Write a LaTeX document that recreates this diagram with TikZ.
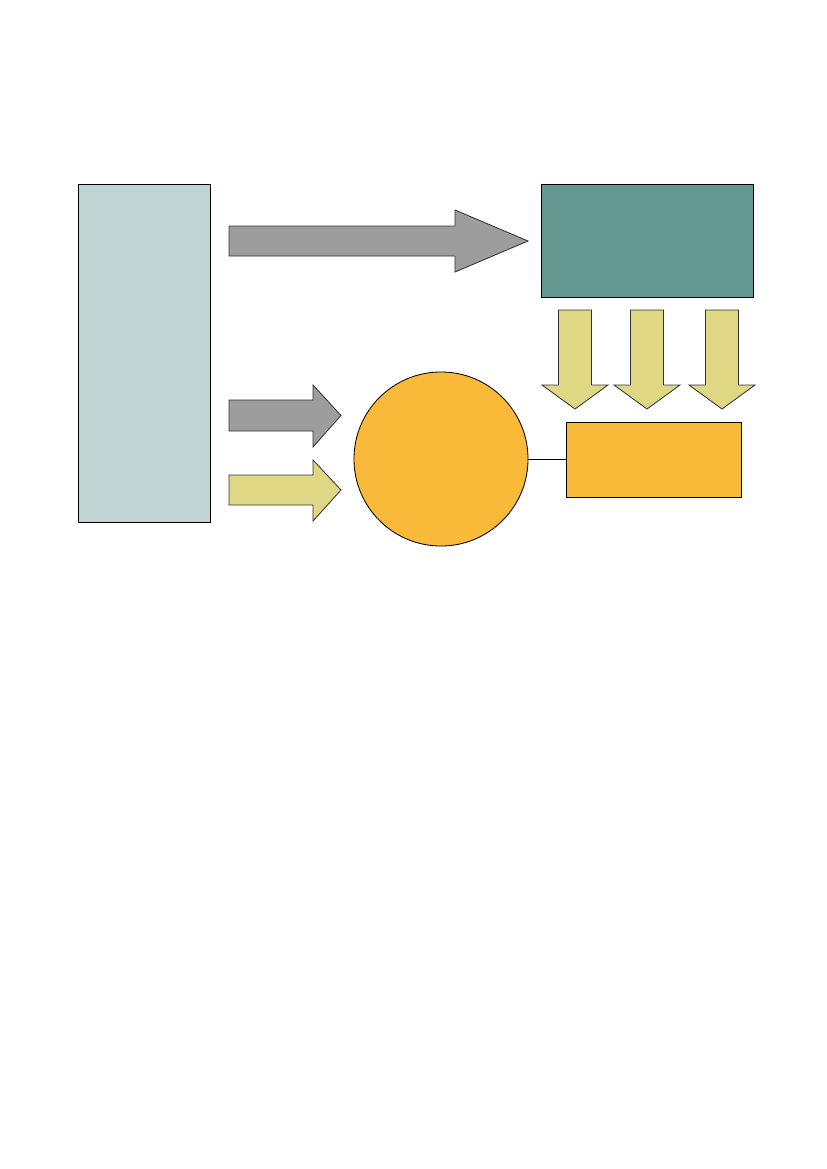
\documentclass[tikz,border=0pt]{standalone}
\usetikzlibrary{calc}

\definecolor{paleblue}{HTML}{C0D5D3}
\definecolor{tealbox}{HTML}{64978F}
\definecolor{arrowgray}{HTML}{9C9D9C}
\definecolor{arrowyellow}{HTML}{E0D784}
\definecolor{huborange}{HTML}{F8BA38}

\tikzset{
  box/.style={draw=black, line width=0.6pt, inner sep=0pt},
  blockarrow/.style={draw=black!80, line width=0.6pt, line join=miter}
}

\begin{document}
\begin{tikzpicture}[x=0.025cm, y=-0.025cm]
  \useasboundingbox (0,0) rectangle (827,1169);

  % boxes (sizes in page pixels * 0.025cm)
  \node[box, fill=paleblue, minimum width=3.3cm, minimum height=8.45cm] (source) at (144,353) {};
  \node[box, fill=tealbox, minimum width=5.3cm, minimum height=2.825cm] (target) at (647,240.5) {};
  \node[box, fill=huborange, minimum width=4.375cm, minimum height=1.875cm] (result) at (653.5,459.5) {};
  \node[circle, box, fill=huborange, minimum size=4.35cm] (hub) at (441,459) {};

  % link between hub and result
  \draw[line width=0.6pt] (hub.east) -- (hub.east -| result.west);

  % long grey arrow to the top box
  \draw[blockarrow, fill=arrowgray]
    (229,226) -- (455,226) -- (455,210) -- (528,241) -- (455,272) -- (455,256) -- (229,256) -- cycle;

  % short arrows into the circle
  \draw[blockarrow, fill=arrowgray]
    (229,400) -- (313,400) -- (313,385) -- (341,415.5) -- (313,447) -- (313,431) -- (229,431) -- cycle;
  \draw[blockarrow, fill=arrowyellow]
    (229,475) -- (313,475) -- (313,460) -- (341,490) -- (313,521) -- (313,505) -- (229,505) -- cycle;

  % three arrows down from the top box
  \foreach \cx in {575,647,722} {
    \draw[blockarrow, fill=arrowyellow]
      (\cx-16.5,310) -- (\cx+16.5,310) -- (\cx+16.5,385) -- (\cx+33,385) -- (\cx,409)
      -- (\cx-33,385) -- (\cx-16.5,385) -- cycle;
  }
\end{tikzpicture}
\end{document}
